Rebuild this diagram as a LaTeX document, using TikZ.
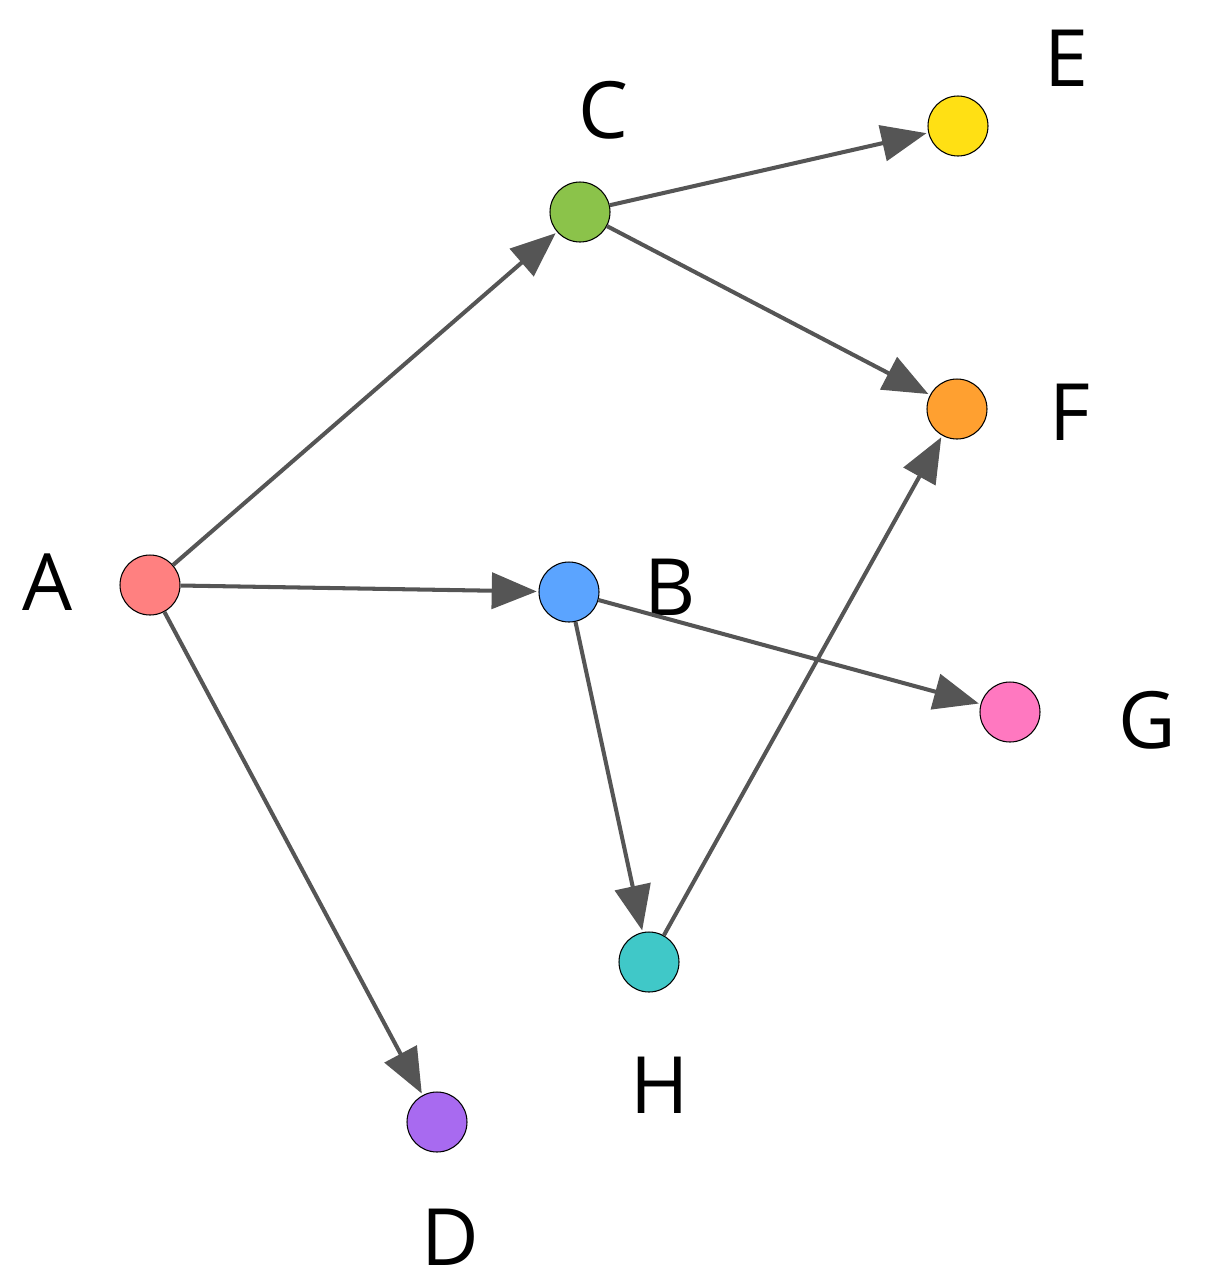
\documentclass[tikz,border=0pt]{standalone}
\usepackage{fontspec}
\setmainfont{Open Sans}
\usetikzlibrary{arrows.meta}
\definecolor{cA}{HTML}{FF8080}
\definecolor{cC}{HTML}{8BC34A}
\definecolor{cE}{HTML}{FFE014}
\definecolor{cF}{HTML}{FFA030}
\definecolor{cB}{HTML}{5BA4FF}
\definecolor{cG}{HTML}{FF78C0}
\definecolor{cH}{HTML}{40C8C8}
\definecolor{cD}{HTML}{A86AF0}
\definecolor{edge}{HTML}{555555}
\begin{document}
\begin{tikzpicture}[x=0.02cm,y=-0.02cm,
  v/.style={circle,draw=black,line width=0.6pt,minimum size=1.2cm,inner sep=0pt},
  lab/.style={font=\fontsize{45}{45}\selectfont},
  e/.style={draw=edge,line width=2.3pt,-{Triangle[length=0.9cm,width=0.72cm]},shorten >=1pt}]
\useasboundingbox (0,0) rectangle (1223,1286);
\node[v,fill=cA] (A) at (150,585) {};
\node[v,fill=cC] (C) at (580,212) {};
\node[v,fill=cE] (E) at (958,126) {};
\node[v,fill=cF] (F) at (957,409) {};
\node[v,fill=cB] (B) at (569,592) {};
\node[v,fill=cG] (G) at (1010,712) {};
\node[v,fill=cH] (H) at (649,962) {};
\node[v,fill=cD] (D) at (437,1122) {};
\node[lab] (lA) at (48,582) {A};
\node[lab] (lC) at (603,110) {C};
\node[lab] (lE) at (1066,58) {E};
\node[lab] (lF) at (1070,412) {F};
\node[lab] (lB) at (670,587) {B};
\node[lab] (lG) at (1147,720) {G};
\node[lab] (lH) at (660,1085) {H};
\node[lab] (lD) at (450,1237) {D};
\draw[e] (A) -- (C);
\draw[e] (A) -- (B);
\draw[e] (A) -- (D);
\draw[e] (C) -- (E);
\draw[e] (C) -- (F);
\draw[e] (B) -- (G);
\draw[e] (B) -- (H);
\draw[e] (H) -- (F);
\end{tikzpicture}
\end{document}
